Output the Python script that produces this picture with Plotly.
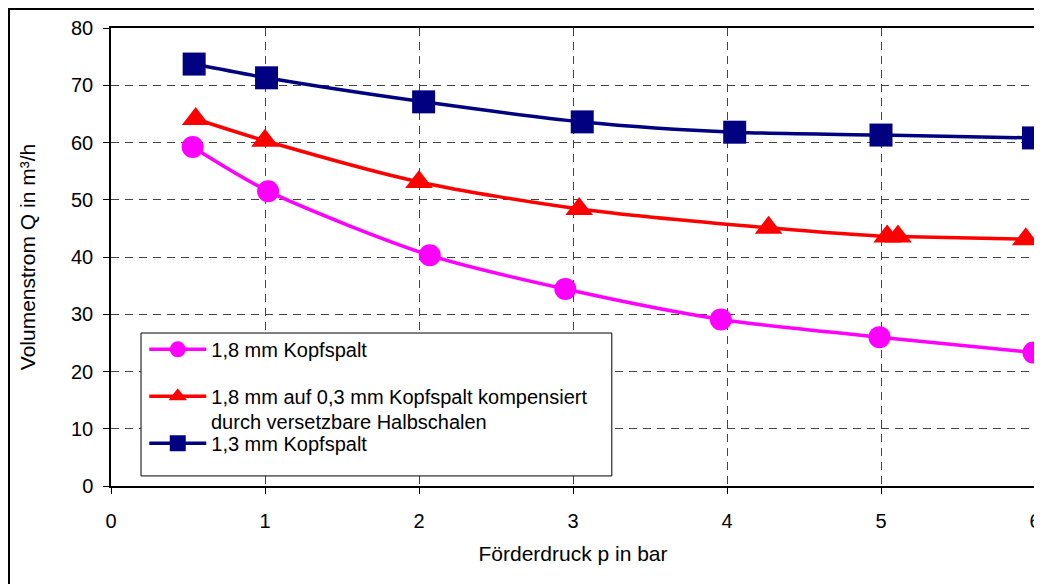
import plotly.graph_objects as go

# Förderdruck p in bar / Volumenstrom Q in m³/h
p_18 = [0.53, 1.02, 2.07, 2.95, 3.96, 4.99, 5.99]
q_18 = [59.2, 51.5, 40.3, 34.4, 29.1, 26.0, 23.3]

p_18_komp = [0.55, 1.0, 2.0, 3.04, 4.27, 5.04, 5.11, 5.94]
q_18_komp = [64.1, 60.3, 53.1, 48.4, 45.1, 43.6, 43.6, 43.1]

p_13 = [0.54, 1.01, 2.03, 3.06, 4.05, 5.0, 5.99]
q_13 = [73.7, 71.3, 67.1, 63.6, 61.8, 61.3, 60.8]

names = ["1,8 mm Kopfspalt",
         "1,8 mm auf 0,3 mm Kopfspalt kompensiert",
         "1,3 mm Kopfspalt"]
name_cont = "durch versetzbare Halbschalen"

font = "Liberation Sans, Arial, sans-serif"

fig = go.Figure()
fig.add_trace(go.Scatter(x=p_18, y=q_18, name=names[0], mode="lines+markers",
                         line=dict(color="#FF00FF", width=3.5, shape="spline", smoothing=0.8),
                         marker=dict(symbol="circle", size=22, color="#FF00FF"),
                         legendgroup="a"))
fig.add_trace(go.Scatter(x=p_18_komp, y=q_18_komp, name=names[1], mode="lines+markers",
                         line=dict(color="#FF0000", width=3.5, shape="spline", smoothing=0.8),
                         marker=dict(symbol="triangle-up", size=24, color="#FF0000"),
                         legendgroup="b"))
fig.add_trace(go.Scatter(x=p_13, y=q_13, name=names[2], mode="lines+markers",
                         line=dict(color="#000080", width=3.5, shape="spline", smoothing=0.8),
                         marker=dict(symbol="square", size=23, color="#000080"),
                         legendgroup="c"))

axis_common = dict(showline=True, linecolor="black", linewidth=1.5, mirror=True,
                   ticks="outside", ticklen=6, tickcolor="black", tickwidth=1,
                   showgrid=True, gridcolor="#444444", gridwidth=1, griddash="8px,6px",
                   zeroline=False, automargin=False,
                   tickfont=dict(family=font, size=20, color="black"))

fig.update_xaxes(range=[0, 6], dtick=1, ticklabelstandoff=10, **axis_common,
                 title=dict(text="Förderdruck p in bar", font=dict(family=font, size=21, color="black"),
                            standoff=16))
fig.update_yaxes(range=[0, 80], dtick=10, ticklabelstandoff=6, **axis_common,
                 title=dict(text="Volumenstrom Q in m³/h", font=dict(family=font, size=21, color="black"),
                            standoff=30))

fig.update_layout(
    width=1034, height=576,
    margin=dict(l=103, r=7, t=20, b=98),
    paper_bgcolor="white", plot_bgcolor="white",
    font=dict(family=font, size=20, color="black"),
    legend=dict(x=0.036, y=0.341, xanchor="left", yanchor="top",
                bgcolor="rgba(0,0,0,0)", borderwidth=0,
                font=dict(family=font, size=20, color="black"),
                itemwidth=57, traceorder="grouped", tracegroupgap=18),
    annotations=[
        dict(text=name_cont, xref="paper", yref="paper", x=0.106, y=0.1397,
             xanchor="left", yanchor="middle", showarrow=False,
             font=dict(family=font, size=20, color="black")),
    ],
    shapes=[
        dict(type="rect", xref="paper", yref="paper", x0=0.0325, x1=0.542, y0=0.022, y1=0.334,
             line=dict(color="black", width=1), fillcolor="white", layer="above"),
        dict(type="rect", xref="paper", yref="paper", x0=-0.1104, x1=1.2, y0=-0.5, y1=1.0415,
             line=dict(color="black", width=2), fillcolor="rgba(0,0,0,0)", layer="below"),
    ],
)

fig.write_html("out.html")
